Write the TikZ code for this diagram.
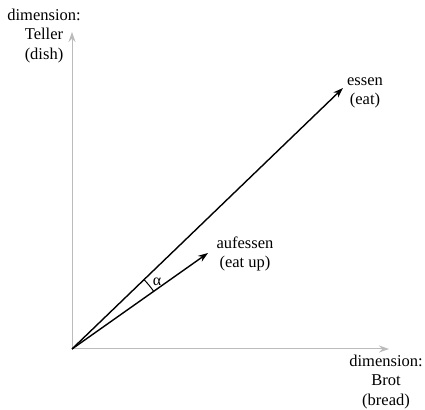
\documentclass[tikz,border=0pt]{standalone}
\usepackage{fontspec}
\setmainfont{Liberation Serif}
\usepackage{xcolor}
\usepackage{tikz}
\usetikzlibrary{positioning,arrows.meta,calc}
\definecolor{axisgray}{HTML}{BBBBBB}
\definecolor{dark}{HTML}{000000}
\tikzset{
    axis/.style={-{Stealth[length=10pt, width=7pt]}, line width=1pt, color=axisgray},
    vector/.style={-{Stealth[length=10pt, width=7pt]}, line width=1.4pt, color=dark},
    word/.style={align=center, inner sep=0pt, font=\fontsize{16.5}{19.5}\selectfont},
    anglemark/.style={line width=1pt, color=dark}
}

\begin{document}
\begin{tikzpicture}[x=1pt, y=1pt]
\useasboundingbox (0,0) rectangle (425,409);

% Axes
\coordinate (origin) at (72,60);
\coordinate (ytip) at (72,377);
\coordinate (xtip) at (389,60);
\draw[axis] (origin) -- (ytip);
\draw[axis] (origin) -- (xtip);

% Axis labels
\node[word] (teller) at (44,373) {dimension:\\Teller\\(dish)};
\node[word] (brot) at (386,27) {dimension:\\Brot\\(bread)};

% Word vectors
\coordinate (essentip) at (343,321);
\coordinate (aufessentip) at (208,156);
\draw[vector] (origin) -- (essentip);
\draw[vector] (origin) -- (aufessentip);

\node[word] (essen) at (365,316) {essen\\(eat)};
\node[word] (aufessen) at (245,155) {aufessen\\(eat up)};

% Angle between the vectors
\draw[anglemark] ($(origin)+(35.2:100)$) arc[start angle=35.2, end angle=43.9, radius=100];
\node[inner sep=0pt, font=\fontsize{16}{16}\selectfont] (alpha) at (157,127) {α};

\end{tikzpicture}
\end{document}
